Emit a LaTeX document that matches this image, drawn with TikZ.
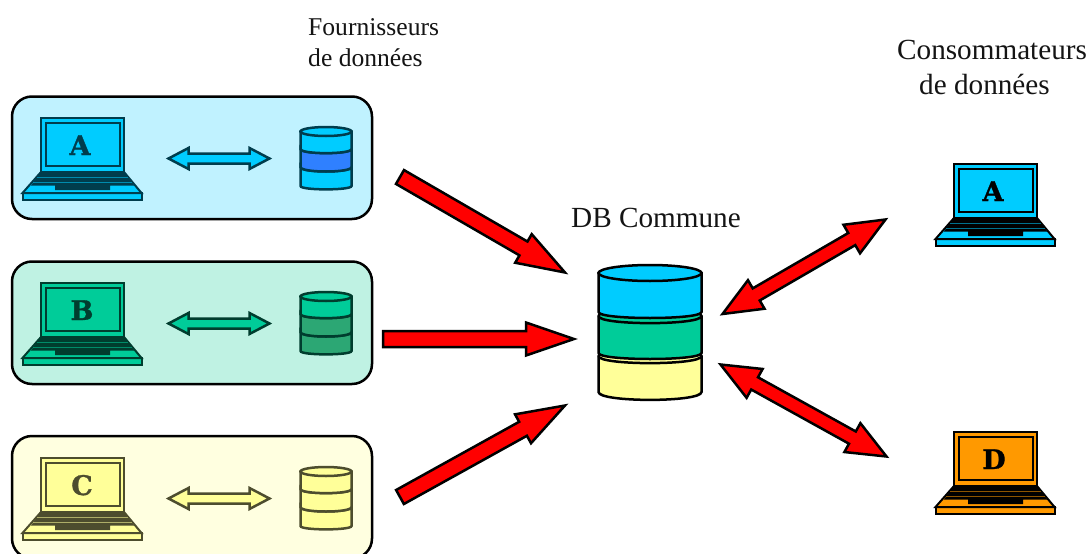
\documentclass[tikz,border=0pt]{standalone}
\usepackage{fontspec}
\setmainfont{Liberation Serif}
\newfontfamily\letterfont[BoldFeatures={FakeBold=1.2}]{DejaVu Serif}
\usetikzlibrary{calc}
\definecolor{bgA}{HTML}{C0F2FF}\definecolor{fillA}{HTML}{00CCFF}\definecolor{darkA}{HTML}{003D4D}\definecolor{midA}{HTML}{2F80FF}
\definecolor{bgB}{HTML}{BFF2E3}\definecolor{fillB}{HTML}{00CC99}\definecolor{darkB}{HTML}{003D2E}\definecolor{midB}{HTML}{2CA774}
\definecolor{bgC}{HTML}{FFFFE0}\definecolor{fillC}{HTML}{FFFF99}\definecolor{darkC}{HTML}{4D4D2E}
\definecolor{fillD}{HTML}{FF9900}
\tikzset{
  groupbox/.style={draw=black,line width=2.5pt,rounded corners=20pt,minimum width=360pt,minimum height=122.5pt,inner sep=0pt,outer sep=0pt,anchor=north west},
  smalltext/.style={font=\fontsize{25.6}{28}\selectfont,inner sep=0pt,anchor=base west,text=black!92},
  bigtext/.style={font=\fontsize{29.2}{32}\selectfont,inner sep=0pt,anchor=base west,text=black!92},
  letterlabel/.style={font=\letterfont\bfseries\fontsize{27}{30}\selectfont,inner sep=0pt,anchor=base},
  redarrow/.style={draw=black,fill=red,line width=2.5pt,miter limit=10},
  linkarrow/.style={line width=2.5pt,miter limit=10},
  dbbody/.style={inner sep=0pt,minimum width=52pt,minimum height=62pt}
}
% #1 options, #2 tail, #3 tip, #4 shaft half width, #5 head length, #6 head half width
\newcommand\singlearrow[6][]{%
  \coordinate (hb) at ($(#3)!#5pt!(#2)$);
  \draw[#1] ($(#2)!#4pt!90:(#3)$) -- ($(hb)!#4pt!90:(#3)$) -- ($(hb)!#6pt!90:(#3)$) -- (#3)
    -- ($(hb)!#6pt!-90:(#3)$) -- ($(hb)!#4pt!-90:(#3)$) -- ($(#2)!#4pt!-90:(#3)$) -- cycle;}
\newcommand\doublearrow[6][]{%
  \coordinate (hb) at ($(#3)!#5pt!(#2)$);
  \coordinate (ha) at ($(#2)!#5pt!(#3)$);
  \draw[#1] (#2) -- ($(ha)!#6pt!90:(#3)$) -- ($(ha)!#4pt!90:(#3)$) -- ($(hb)!#4pt!90:(#3)$) -- ($(hb)!#6pt!90:(#3)$) -- (#3)
    -- ($(hb)!#6pt!-90:(#3)$) -- ($(hb)!#4pt!-90:(#3)$) -- ($(ha)!#4pt!-90:(#3)$) -- ($(ha)!#6pt!-90:(#3)$) -- cycle;}
% #1 name, #2 dx, #3 dy, #4 fill, #5 dark, #6 letter, #7 letter x
\newcommand\laptop[7]{%
  \begin{scope}[shift={(#2,#3)},line width=2pt,draw=#5,line join=miter]
    \draw[fill=#4] (22.5,193) rectangle (141.5,199.5);
    \draw[fill=#4] (41,172) -- (124,172) -- (141.5,193) -- (22.5,193) -- cycle;
    \fill[#5] (40,173) -- (125,173) -- (134,185.5) -- (110,185.5) -- (110,190) -- (55,190) -- (55,185.5) -- (31,185.5) -- cycle;
    \draw[#4,line width=.6pt,opacity=.55] (37,177) -- (128,177) (33,182) -- (132,182);
    \draw[fill=#4] (41,117.5) rectangle (124,172);
    \draw (45.5,123) rectangle (119.5,166);
    \node[letterlabel,text=#5] (#1) at (#7,155) {#6};
  \end{scope}}
% #1 name, #2 dy, #3 top, #4 mid, #5 low, #6 dark
\newcommand\smalldb[6]{%
  \begin{scope}[shift={(0,#2)},line width=2.5pt,draw=#6]
    \draw[fill=#5] (300.5,167) -- (300.5,186) .. controls (300.5,190.5) and (351.5,190.5) .. (351.5,186) -- (351.5,167) .. controls (351.5,173) and (300.5,173) .. (300.5,167) -- cycle;
    \draw[fill=#4] (300.5,149) -- (300.5,167) .. controls (300.5,173) and (351.5,173) .. (351.5,167) -- (351.5,149) .. controls (351.5,154.5) and (300.5,154.5) .. (300.5,149) -- cycle;
    \draw[fill=#3] (300.5,131.5) -- (300.5,149) .. controls (300.5,154.5) and (351.5,154.5) .. (351.5,149) -- (351.5,131.5) -- cycle;
    \draw[fill=#3] (326,131.5) ellipse [x radius=25.5pt,y radius=4.5pt];
    \node[dbbody] (#1) at (326,158) {};
  \end{scope}}
\begin{document}
\begin{tikzpicture}[x=1pt,y=-1pt]
\useasboundingbox (0,0) rectangle (1090,554);
\clip (0,0) rectangle (1090,554);
% group boxes
\node[groupbox,fill=bgA] (boxA) at (12,96.5) {};
\node[groupbox,fill=bgB] (boxB) at (12,261.5) {};
\node[groupbox,fill=bgC] (boxC) at (12,436) {};
% providers
\laptop{lapA}{0}{0}{fillA}{darkA}{A}{80}
\laptop{lapB}{0}{165}{fillB}{darkB}{B}{82}
\laptop{lapC}{0}{340}{fillC}{darkC}{C}{82}
\smalldb{dbA}{0}{fillA}{midA}{fillA}{darkA}
\smalldb{dbB}{165}{fillB}{midB}{midB}{darkB}
\smalldb{dbC}{340}{fillC}{fillC}{fillC}{darkC}
\coordinate (aL) at (168.5,158.5); \coordinate (aR) at (269.5,158.5);
\coordinate (bL) at (168.5,323.5); \coordinate (bR) at (269.5,323.5);
\coordinate (cL) at (168.5,498.5); \coordinate (cR) at (269.5,498.5);
\doublearrow[linkarrow,draw=darkA,fill=fillA]{aL}{aR}{5}{20}{10.5}
\doublearrow[linkarrow,draw=darkB,fill=fillB]{bL}{bR}{5}{20}{10.5}
\doublearrow[linkarrow,draw=darkC,fill=fillC]{cL}{cR}{5}{20}{10.5}
% consumers
\laptop{lapCA}{913}{46}{fillA}{black}{A}{80}
\laptop{lapCD}{913}{314}{fillD}{black}{D}{81}
% central database
\begin{scope}[draw=black,line width=2.5pt]
  \draw[fill=fillC] (598.5,356) -- (598.5,392) .. controls (598.5,402.5) and (701.5,402.5) .. (701.5,392) -- (701.5,356) .. controls (701.5,346) and (598.5,346) .. (598.5,356) -- cycle;
  \draw[draw=black] (598.5,356) .. controls (598.5,365.5) and (701.5,365.5) .. (701.5,356);
  \draw[fill=fillB] (598.5,316) -- (598.5,353) .. controls (598.5,361) and (701.5,361) .. (701.5,353) -- (701.5,316) .. controls (701.5,306) and (598.5,306) .. (598.5,316) -- cycle;
  \draw (598.5,316) .. controls (598.5,325.5) and (701.5,325.5) .. (701.5,316);
  \draw[fill=fillA] (598.5,273) -- (598.5,312) .. controls (598.5,320) and (701.5,320) .. (701.5,312) -- (701.5,273) -- cycle;
  \draw[fill=fillA] (650,273) ellipse [x radius=51.5pt,y radius=8pt];
\end{scope}
\node[inner sep=0pt,minimum width=104pt,minimum height=136pt] (dbCommune) at (650,333) {};
% red arrows
\coordinate (r1a) at (400,177); \coordinate (r1b) at (565,272.5);
\coordinate (r2a) at (383,339); \coordinate (r2b) at (574,339);
\coordinate (r3a) at (400,497); \coordinate (r3b) at (565,405.5);
\coordinate (r4a) at (722.5,314); \coordinate (r4b) at (885.5,219.5);
\coordinate (r5a) at (720.5,364.5); \coordinate (r5b) at (886.5,456.5);
\singlearrow[redarrow]{r1a}{r1b}{8}{48}{16.5}
\singlearrow[redarrow]{r2a}{r2b}{8}{48}{16.5}
\singlearrow[redarrow]{r3a}{r3b}{8}{48}{16.5}
\doublearrow[redarrow]{r4a}{r4b}{7}{39}{16.5}
\doublearrow[redarrow]{r5a}{r5b}{7}{39}{16.5}
% labels
\node[smalltext] (fa) at (308,35) {Fournisseurs};
\node[smalltext] (fb) at (308,66) {de données};
\node[bigtext] (ca) at (897,59) {Consommateurs};
\node[bigtext] (cb) at (919,94) {de données};
\node[bigtext] (dbl) at (571,227) {DB Commune};
\end{tikzpicture}
\end{document}
